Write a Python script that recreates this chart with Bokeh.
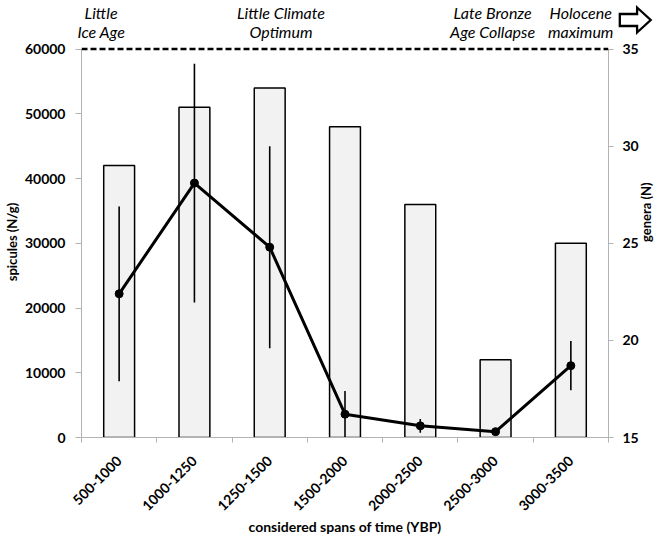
from math import pi
from bokeh.plotting import figure
from bokeh.layouts import column
from bokeh.models import (Range1d, LinearAxis, FixedTicker, Span, Div,
                          NumeralTickFormatter, ColumnDataSource)
from bokeh.embed import file_html
from bokeh.resources import INLINE

# ---------------- data ----------------
categories = ["500-1000", "1000-1250", "1250-1500", "1500-2000",
              "2000-2500", "2500-3000", "3000-3500"]
spicules = [42000, 51000, 54000, 48000, 36000, 12000, 30000]
genera = [22.4, 28.1, 24.8, 16.2, 15.6, 15.3, 18.7]
genera_sd = [4.5, 6.15, 5.2, 1.2, 0.35, 0.0, 1.27]
left_ticks = [0, 10000, 20000, 30000, 40000, 50000, 60000]
right_ticks = [15, 20, 25, 30, 35]
reference_level = 60000
event_line1 = ["Little", "Little Climate", "Late Bronze", "Holocene"]
event_line2 = ["Ice Age", "Optimum", "Age Collapse", "maximum"]
event_x = [0.36, 2.75, 5.56, 6.73]

FONT = "Lato"
GREY = "#b3b3b3"

# ---------------- geometry ----------------
WIDTH = 652
FRAME_LEFT = 74
FRAME_W = 527
FRAME_H = 391
TOP_H = 38
BORDER_TOP = 8
LEFT_MAX, RIGHT_MIN, RIGHT_MAX = 60000, 15, 35
PAD = 400                       # headroom above 60000 so the dashed line is not clipped
n = len(categories)

xc = [i + 0.5 for i in range(n)]
src = ColumnDataSource(dict(
    x=xc, spicules=spicules, genera=genera,
    lo=[g - s for g, s in zip(genera, genera_sd)],
    hi=[g + s for g, s in zip(genera, genera_sd)],
))

p = figure(frame_width=FRAME_W, frame_height=FRAME_H,
           output_backend="svg", toolbar_location=None,
           x_range=Range1d(0, n), y_range=Range1d(0, LEFT_MAX + PAD),
           min_border_left=FRAME_LEFT, min_border_right=WIDTH - FRAME_LEFT - FRAME_W,
           min_border_top=BORDER_TOP, min_border_bottom=90)
p.outline_line_color = None
p.xgrid.visible = False
p.ygrid.visible = False
p.border_fill_color = None
p.background_fill_color = "white"
ratio = (RIGHT_MAX - RIGHT_MIN) / LEFT_MAX
p.extra_y_ranges = {"genera": Range1d(RIGHT_MIN, RIGHT_MAX + PAD * ratio)}

# bars
p.vbar(x="x", top="spicules", bottom=0, width=0.41, source=src,
       fill_color="#f2f2f2", line_color="black", line_width=1.5)

# error bars & line
p.segment(x0="x", x1="x", y0="lo", y1="hi", source=src, y_range_name="genera",
          line_color="black", line_width=1.6)
p.line(x="x", y="genera", source=src, y_range_name="genera",
       line_color="black", line_width=3)
p.scatter(x="x", y="genera", source=src, y_range_name="genera",
          size=8, fill_color="black", line_color="black")

# dashed reference line
p.add_layout(Span(location=reference_level, dimension="width", line_color="black",
                  line_width=2.5, line_dash="6 3"))

# ----- x axis -----
xa = p.xaxis[0]
xa.ticker = FixedTicker(ticks=xc, minor_ticks=list(range(n + 1)))
xa.major_label_overrides = {v: c for v, c in zip(xc, categories)}
xa.major_label_orientation = pi / 4
xa.major_tick_out = 0
xa.major_tick_in = 0
xa.minor_tick_out = 5
xa.minor_tick_in = 0
xa.minor_tick_line_color = GREY
xa.axis_line_color = GREY
xa.major_label_text_font = FONT
xa.major_label_text_font_style = "bold"
xa.major_label_text_font_size = "14px"
xa.major_label_text_color = "black"
xa.major_label_standoff = 16
xa.axis_label = "considered spans of time (YBP)"
xa.axis_label_text_font = FONT
xa.axis_label_text_font_style = "bold"
xa.axis_label_text_font_size = "14px"
xa.axis_label_text_color = "black"
xa.axis_label_standoff = 0

# ----- left axis -----
ya = p.yaxis[0]
ya.ticker = FixedTicker(ticks=left_ticks)
ya.bounds = (0, LEFT_MAX)
ya.formatter = NumeralTickFormatter(format="0")
ya.minor_tick_line_color = None
ya.major_tick_out = 6
ya.major_tick_in = 0
ya.major_tick_line_color = GREY
ya.axis_line_color = GREY
ya.major_label_text_font = FONT
ya.major_label_text_font_style = "bold"
ya.major_label_text_font_size = "14px"
ya.major_label_text_color = "black"
ya.major_label_standoff = 10
ya.axis_label = "spicules (N/g)"
ya.axis_label_text_font = FONT
ya.axis_label_text_font_style = "bold"
ya.axis_label_text_font_size = "13px"
ya.axis_label_text_color = "black"
ya.axis_label_standoff = 2

# ----- right axis -----
ra = LinearAxis(y_range_name="genera", ticker=FixedTicker(ticks=right_ticks),
                bounds=(RIGHT_MIN, RIGHT_MAX))
ra.minor_tick_line_color = None
ra.major_tick_out = 5
ra.major_tick_in = 0
ra.major_tick_line_color = GREY
ra.axis_line_color = GREY
ra.major_label_text_font = FONT
ra.major_label_text_font_style = "bold"
ra.major_label_text_font_size = "14px"
ra.major_label_text_color = "black"
ra.major_label_standoff = 9
ra.axis_label = "genera (N)"
ra.axis_label_text_font = FONT
ra.axis_label_text_font_style = "bold"
ra.axis_label_text_font_size = "13px"
ra.axis_label_text_color = "black"
ra.axis_label_standoff = 4
try:
    ra.axis_label_orientation = pi / 2
except Exception:
    pass
p.add_layout(ra, "right")

# ----- strip above the plot with the event names (same x scale as the plot) -----
unit = FRAME_W / n
parts = []
for ex, t1, t2 in zip(event_x, event_line1, event_line2):
    cx = FRAME_LEFT + ex * unit
    parts.append(
        f'<div style="position:absolute;left:{cx - 70:.1f}px;width:140px;top:2.5px;'
        f'text-align:center;white-space:nowrap">{t1}<br>{t2}</div>')
# outlined block arrow (towards the Holocene maximum)
ax = [FRAME_LEFT + u * unit for u in (7.25, 7.48, 7.66)]
pts = [(ax[0], 14), (ax[1], 14), (ax[1], 7.5), (ax[2], 20),
       (ax[1], 32.5), (ax[1], 26), (ax[0], 26)]
pts_s = " ".join(f"{x:.1f},{y:.1f}" for x, y in pts)
parts.append(
    f'<svg style="position:absolute;left:0;top:0;overflow:visible" width="{WIDTH}" '
    f'height="{TOP_H}"><polygon points="{pts_s}" fill="white" stroke="black" '
    f'stroke-width="2.3" stroke-linejoin="miter"/></svg>')
html = (f'<div style="position:relative;width:{WIDTH}px;height:{TOP_H}px;'
        f'overflow:visible;font-family:{FONT};font-style:italic;font-size:16px;'
        f'line-height:19.5px;color:black">' + "".join(parts) + '</div>')
top = Div(text=html, width=WIDTH, height=TOP_H, margin=(0, 0, 0, 0),
          styles={"overflow": "visible"})

open("out.html", "w").write(file_html(column(top, p, spacing=0), INLINE))
